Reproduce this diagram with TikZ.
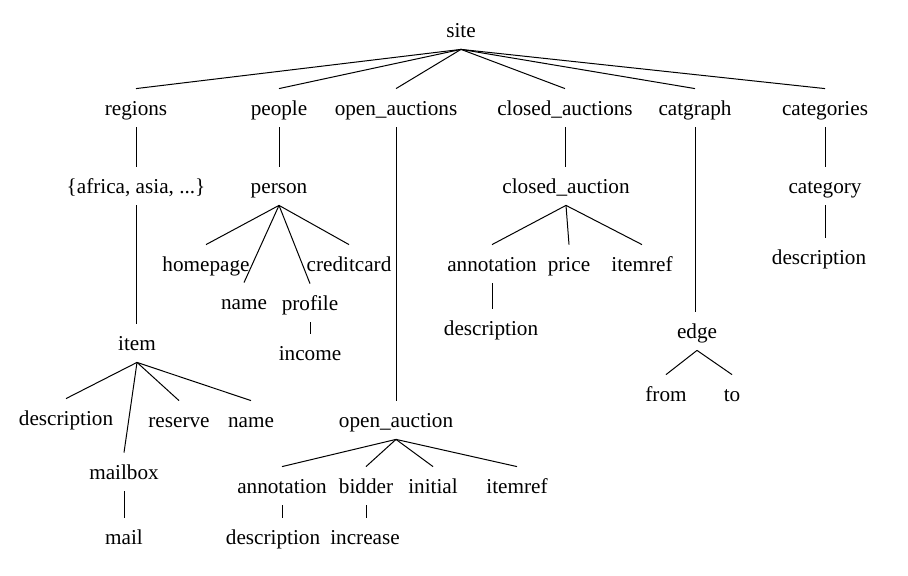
\documentclass[tikz,border=0pt]{standalone}
\usepackage{fontspec}
\setmainfont{LiberationSerif}[Extension=.ttf, UprightFont=*-Regular]
\begin{document}
\begin{tikzpicture}[
    x=0.5pt, y=-0.5pt,
    tag/.style = {
      inner xsep=1pt, inner ysep=5pt,
      text height=8.3pt, text depth=0.7pt,
      font=\fontsize{10.6}{12}\selectfont
    },
    link/.style = {line width=0.5pt}
  ]
  \useasboundingbox (0,0) rectangle (908,576);
  % root and first level
  \node[tag] (site)       at (461,30)  {site};
  \node[tag] (regions)    at (136,108) {regions};
  \node[tag] (people)     at (279,108) {people};
  \node[tag] (oauctions)  at (396,108) {open\_auctions};
  \node[tag] (cauctions)  at (565,108) {closed\_auctions};
  \node[tag] (catgraph)   at (695,108) {catgraph};
  \node[tag] (categories) at (825,108) {categories};
  % regions
  \node[tag] (africa)  at (136,186) {\{africa, asia, ...\}};
  \node[tag] (item)    at (137,343) {item};
  \node[tag] (idesc)   at (66,418)  {description};
  \node[tag] (reserve) at (179,420) {reserve};
  \node[tag] (iname)   at (251,420) {name};
  \node[tag] (mailbox) at (124,472) {mailbox};
  \node[tag] (mail)    at (124,537) {mail};
  % people
  \node[tag] (person)   at (279,186) {person};
  \node[tag] (homepage) at (206,264) {homepage};
  \node[tag] (ccard)    at (349,264) {creditcard};
  \node[tag] (pname)    at (244,302) {name};
  \node[tag] (profile)  at (310,303) {profile};
  \node[tag] (income)   at (310,353) {income};
  % open auctions
  \node[tag] (oauction) at (396,420) {open\_auction};
  \node[tag] (oannot)   at (282,486) {annotation};
  \node[tag] (bidder)   at (366,486) {bidder};
  \node[tag] (initial)  at (433,486) {initial};
  \node[tag] (oitemref) at (517,486) {itemref};
  \node[tag] (odesc)    at (273,537) {description};
  \node[tag] (increase) at (365,537) {increase};
  % closed auctions
  \node[tag] (cauction) at (566,186) {closed\_auction};
  \node[tag] (cannot)   at (492,264) {annotation};
  \node[tag] (price)    at (569,264) {price};
  \node[tag] (citemref) at (642,264) {itemref};
  \node[tag] (cdesc)    at (491,328) {description};
  % catgraph
  \node[tag] (edgenode) at (697,331) {edge};
  \node[tag] (from)     at (666,394) {from};
  \node[tag] (to)       at (732,394) {to};
  % categories
  \node[tag] (category) at (825,186) {category};
  \node[tag] (catdesc)  at (819,257) {description};
  % fanning connectors
  \foreach \a/\b in {site/regions, site/people, site/oauctions, site/cauctions,
                     site/catgraph, site/categories,
                     item/idesc, item/mailbox, item/reserve, item/iname,
                     person/homepage, person/pname, person/profile, person/ccard,
                     oauction/oannot, oauction/bidder, oauction/initial,
                     oauction/oitemref,
                     cauction/cannot, cauction/price, cauction/citemref,
                     edgenode/from, edgenode/to}
    \draw[link] (\a.south) -- (\b.north);
  % straight drops
  \foreach \a/\b in {regions/africa, africa/item, mailbox/mail,
                     people/person, profile/income,
                     oauctions/oauction, oannot/odesc, bidder/increase,
                     cauctions/cauction, cannot/cdesc,
                     catgraph/edgenode, categories/category, category/catdesc}
    \draw[link] (\a.south) -- (\a.south |- \b.north);
\end{tikzpicture}
\end{document}
